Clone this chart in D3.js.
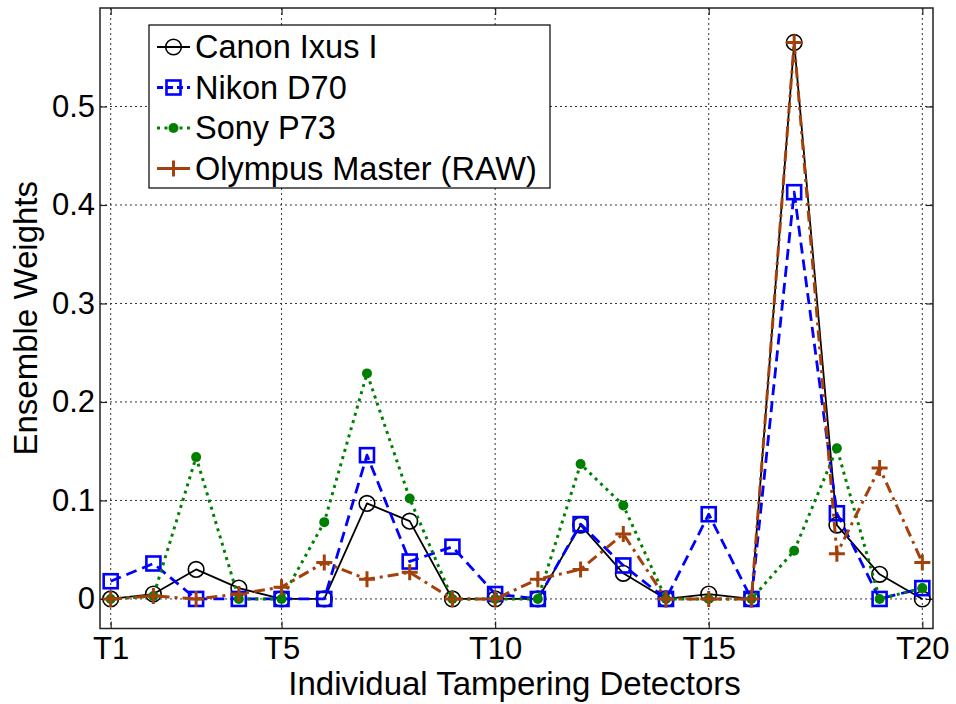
<!DOCTYPE html>
<html>
<head>
<meta charset="utf-8">
<script src="https://cdn.jsdelivr.net/npm/d3@7"></script>
<style>
  html, body { margin: 0; padding: 0; background: #fff; }
  svg { display: block; font-family: "Liberation Sans", Arial, sans-serif; }
</style>
</head>
<body>
<svg id="chart" width="956" height="704"></svg>
<script>
// ---- data ----
const categories = ["T1","T2","T3","T4","T5","T6","T7","T8","T9","T10","T11","T12","T13","T14","T15","T16","T17","T18","T19","T20"];
const xTickValues = [1, 5, 10, 15, 20];
const xTickLabels = ["T1", "T5", "T10", "T15", "T20"];
const yTickValues = [0, 0.1, 0.2, 0.3, 0.4, 0.5];
const yTickLabels = ["0", "0.1", "0.2", "0.3", "0.4", "0.5"];
const seriesNames = ["Canon Ixus I", "Nikon D70", "Sony P73", "Olympus Master (RAW)"];
const canon   = [0, 0.005, 0.030, 0.011, 0, 0, 0.097, 0.079, 0, 0, 0, 0.075, 0.026, 0, 0.005, 0, 0.565, 0.075, 0.025, 0];
const nikon   = [0.018, 0.036, 0, 0, 0, 0, 0.146, 0.038, 0.053, 0.005, 0, 0.076, 0.034, 0, 0.086, 0, 0.413, 0.087, 0, 0.011];
const sony    = [0, 0.003, 0.144, 0, 0, 0.078, 0.229, 0.102, 0, 0, 0, 0.137, 0.095, 0, 0, 0, 0.049, 0.153, 0, 0.011];
const olympus = [0, 0.003, 0, 0.005, 0.012, 0.037, 0.020, 0.027, 0, 0, 0.020, 0.030, 0.066, 0, 0, 0, 0.565, 0.046, 0.133, 0.037];

// ---- layout ----
const svg = d3.select("#chart");
const L = 100, R = 933, T = 8, B = 628.5;
const x = d3.scaleLinear().domain([0.75, 20.25]).range([L, R]);
const y = d3.scaleLinear().domain([-0.03, 0.6]).range([B, T]);

const styles = [
  { color: "#000000", width: 1.8, dash: null, marker: "circle" },
  { color: "#0000FF", width: 2.8, dash: "11,6", marker: "square" },
  { color: "#008000", width: 3, dash: "3,4.5", marker: "dot" },
  { color: "#A3410C", width: 3, dash: "11,5,3,5", marker: "plus" }
];
const allSeries = [canon, nikon, sony, olympus];

// grid
const grid = svg.append("g");
grid.selectAll("line.gy").data(yTickValues).join("line")
  .attr("x1", L).attr("x2", R)
  .attr("y1", d => y(d)).attr("y2", d => y(d))
  .attr("stroke", "#333").attr("stroke-width", 1).attr("stroke-dasharray", "2,3");
grid.selectAll("line.gx").data(xTickValues).join("line")
  .attr("x1", d => x(d)).attr("x2", d => x(d))
  .attr("y1", T).attr("y2", B)
  .attr("stroke", "#333").attr("stroke-width", 1).attr("stroke-dasharray", "2,3");

// axes with inward ticks
const tickLen = 7;
const axB = svg.append("g").attr("transform", `translate(0,${B})`)
  .call(d3.axisBottom(x).tickValues(xTickValues).tickFormat((d, i) => xTickLabels[i]).tickSize(-tickLen).tickPadding(8));
const axT = svg.append("g").attr("transform", `translate(0,${T})`)
  .call(d3.axisTop(x).tickValues(xTickValues).tickFormat("").tickSize(-tickLen));
const axL = svg.append("g").attr("transform", `translate(${L},0)`)
  .call(d3.axisLeft(y).tickValues(yTickValues).tickFormat((d, i) => yTickLabels[i]).tickSize(-tickLen).tickPadding(5));
const axR = svg.append("g").attr("transform", `translate(${R},0)`)
  .call(d3.axisRight(y).tickValues(yTickValues).tickFormat("").tickSize(-tickLen));
[axB, axT, axL, axR].forEach(a => {
  a.select(".domain").remove();
  a.selectAll(".tick line").attr("stroke", "#222").attr("stroke-width", 1.2);
  a.selectAll("text").attr("font-size", 31).attr("fill", "#000")
    .attr("font-family", "'Liberation Sans', Arial, sans-serif");
});
axB.selectAll("text").attr("dy", "0.71em");
// frame
svg.append("rect").attr("x", L).attr("y", T).attr("width", R - L).attr("height", B - T)
  .attr("fill", "none").attr("stroke", "#222").attr("stroke-width", 1.5);

// markers
function drawMarker(g, type, color, cx, cy) {
  if (type === "circle") {
    g.append("circle").attr("cx", cx).attr("cy", cy).attr("r", 7.8)
      .attr("fill", "none").attr("stroke", color).attr("stroke-width", 1.6);
  } else if (type === "square") {
    g.append("rect").attr("x", cx - 7).attr("y", cy - 7).attr("width", 14).attr("height", 14)
      .attr("fill", "none").attr("stroke", color).attr("stroke-width", 2.6);
  } else if (type === "dot") {
    g.append("circle").attr("cx", cx).attr("cy", cy).attr("r", 5)
      .attr("fill", color).attr("stroke", "none");
  } else if (type === "plus") {
    g.append("path").attr("d", `M${cx - 8},${cy}H${cx + 8}M${cx},${cy - 8}V${cy + 8}`)
      .attr("stroke", color).attr("stroke-width", 3).attr("fill", "none");
  }
}

const line = d3.line().x((d, i) => x(i + 1)).y(d => y(d));
allSeries.forEach((vals, si) => {
  const s = styles[si];
  const g = svg.append("g");
  g.append("path").datum(vals).attr("d", line)
    .attr("fill", "none").attr("stroke", s.color).attr("stroke-width", s.width)
    .attr("stroke-dasharray", s.dash).attr("stroke-linejoin", "round");
  vals.forEach((v, i) => drawMarker(g, s.marker, s.color, x(i + 1), y(v)));
});

// axis titles
svg.append("text").attr("x", (L + R) / 2 - 2).attr("y", 695)
  .attr("text-anchor", "middle").attr("font-size", 33).text("Individual Tampering Detectors");
svg.append("text").attr("transform", `translate(37,${(T + B) / 2}) rotate(-90)`)
  .attr("text-anchor", "middle").attr("font-size", 33).text("Ensemble Weights");

// legend
const lg = svg.append("g");
lg.append("rect").attr("x", 149).attr("y", 25).attr("width", 401).attr("height", 163)
  .attr("fill", "#fff").attr("stroke", "#000").attr("stroke-width", 1.2);
seriesNames.forEach((name, i) => {
  const s = styles[i];
  const cy = 47 + i * 40.5;
  lg.append("line").attr("x1", 157).attr("x2", 190).attr("y1", cy).attr("y2", cy)
    .attr("stroke", s.color).attr("stroke-width", s.width)
    .attr("stroke-dasharray", s.dash ? (i === 1 ? "6,4" : i === 3 ? "10,0" : s.dash) : null);
  drawMarker(lg, s.marker, s.color, 173.5, cy);
  lg.append("text").attr("x", 195).attr("y", cy + 11).attr("font-size", 32.5).text(name);
});
</script>
</body>
</html>
